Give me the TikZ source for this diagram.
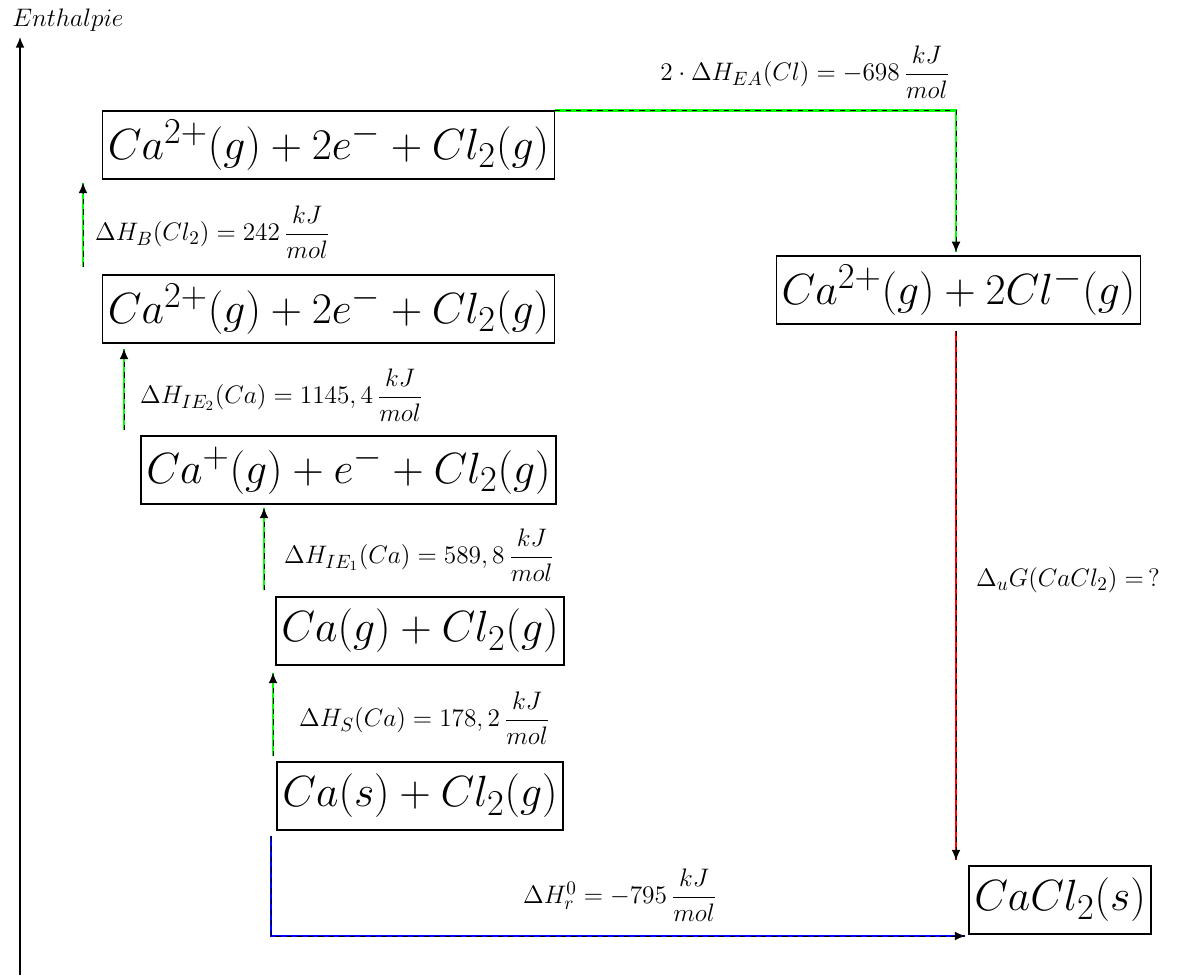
\documentclass[tikz,border=0pt]{standalone}
\usepackage{amsmath}
\usetikzlibrary{arrows.meta}
\usetikzlibrary{positioning}
\tikzset{box/.style = {draw, thick, inner sep = 3pt, minimum height = 1.36cm, font = \fontsize{28}{34}\selectfont}}
\tikzset{flow/.style = {draw = #1, line width = 1.6pt,
                        postaction = {draw = black, dashed, line width = 0.5pt, -{Latex[length=6pt,width=5pt]}}}}
\tikzset{lbl/.style = {font = \fontsize{15.5}{19}\selectfont}}

\begin{document}
\begin{tikzpicture}
      \useasboundingbox (0, 0) rectangle (23.94, 19.54);

      \draw [thick, -{Latex[length=6pt,width=5pt]}] (0.4, 0.04) -- (0.4, 18.8);
      \node [lbl] (axis) at (1.36, 19.14) {$Enthalpie$};

      \node [box] (b1) at (6.57, 16.64) {$Ca^{2+}(g) + 2e^{-} + Cl_2(g)$};
      \node [box] (b2) at (6.57, 13.36) {$Ca^{2+}(g) + 2e^{-} + Cl_2(g)$};
      \node [box] (b3) at (6.97, 10.14) {$Ca^{+}(g) + e^{-} + Cl_2(g)$};
      \node [box] (b4) at (8.40, 6.92) {$Ca(g) + Cl_2(g)$};
      \node [box] (b5) at (8.40, 3.62) {$Ca(s) + Cl_2(g)$};
      \node [box] (b6) at (19.17, 13.74) {$Ca^{2+}(g) + 2Cl^{-}(g)$};
      \node [box] (b7) at (21.20, 1.54) {$CaCl_2(s)$};

      % x positions of the vertical steps
      \coordinate (xa) at (1.66, 0);
      \coordinate (xb) at (2.48, 0);
      \coordinate (xc) at (5.28, 0);
      \coordinate (xd) at (5.46, 0);
      \coordinate (c1) at (19.12, 16.74);
      \coordinate (c2) at (5.42, 0.82);

      \draw [flow=green] ([yshift=0.14cm]b2.north -| xa) -- ([yshift=-0.06cm]b1.south -| xa);
      \node [lbl, anchor=west] (hb) at (1.78, 14.9) {$\Delta H_B(Cl_2) = 242\,\dfrac{kJ}{mol}$};
      \draw [flow=green] ([yshift=0.1cm]b3.north -| xb) -- ([yshift=-0.1cm]b2.south -| xb);
      \node [lbl, anchor=west] (hie2) at (2.68, 11.64) {$\Delta H_{IE_2}(Ca) = 1145,4\,\dfrac{kJ}{mol}$};
      \draw [flow=green] ([yshift=0.12cm]b4.north -| xc) -- ([yshift=-0.06cm]b3.south -| xc);
      \node [lbl, anchor=west] (hie1) at (5.56, 8.44) {$\Delta H_{IE_1}(Ca) = 589,8\,\dfrac{kJ}{mol}$};
      \draw [flow=green] ([yshift=0.1cm]b5.north -| xd) -- ([yshift=-0.14cm]b4.south -| xd);
      \node [lbl, anchor=west] (hs) at (5.86, 5.18) {$\Delta H_S(Ca) = 178,2\,\dfrac{kJ}{mol}$};
      \draw [flow=green] (b1.north east) -- (b1.north east -| c1) -- ([yshift=0.06cm]b6.north -| c1);
      \node [lbl] (hea) at (16.1, 18.1) {$2 \cdot \Delta H_{EA}(Cl) = -698\,\dfrac{kJ}{mol}$};
      \draw [flow=red] ([yshift=-0.12cm]b6.south -| c1) -- ([yshift=0.1cm]b7.north -| c1);
      \node [lbl, anchor=west] (hg) at (19.4, 7.94) {$\Delta_u G(CaCl_2) = \,?$};
      \draw [flow=blue] ([yshift=-0.1cm]b5.south -| c2) -- (c2) -- ([xshift=-0.06cm]b7.west |- c2);
      \node [lbl] (hr) at (12.4, 1.64) {$\Delta H^0_r = -795\,\dfrac{kJ}{mol}$};
    \end{tikzpicture}
\end{document}
